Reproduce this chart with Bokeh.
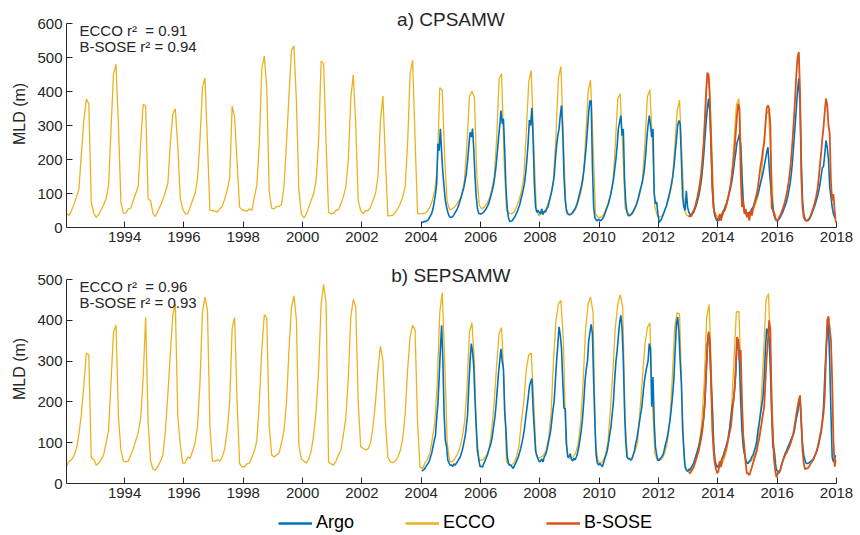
import numpy as np
from bokeh.plotting import figure
from bokeh.layouts import column
from bokeh.models import Range1d, FixedTicker, Label, Legend, LegendItem
from bokeh.embed import file_html
from bokeh.resources import INLINE

# ---------------- data (MLD in m) ----------------
ecco_start = 1992          # monthly ECCO, Jan 1992 - Dec 2015
argo_start = 2004          # semi-monthly Argo, 2004 - 2017
bsose_start = 2013         # semi-monthly B-SOSE, 2013 - 2017

year_ticks = [1994, 1996, 1998, 2000, 2002, 2004, 2006, 2008, 2010, 2012, 2014, 2016, 2018]
year_tick_labels = ["1994", "1996", "1998", "2000", "2002", "2004", "2006", "2008",
                    "2010", "2012", "2014", "2016", "2018"]

ecco_cpsamw = [
    41, 35, 50, 68, 90, 113, 216, 315, 378, 364, 75, 42,      # 1992
    30, 38, 52, 66, 85, 123, 290, 452, 480, 300, 74, 42,      # 1993
    42, 55, 57, 80, 100, 122, 250, 362, 358, 84, 79, 40,      # 1994
    32, 50, 65, 82, 105, 130, 250, 334, 349, 240, 85, 55,     # 1995
    40, 40, 60, 80, 100, 145, 260, 413, 440, 250, 51, 50,     # 1996
    48, 45, 55, 62, 85, 110, 145, 357, 324, 190, 60, 52,      # 1997
    50, 48, 55, 50, 90, 125, 250, 467, 504, 410, 105, 57,     # 1998
    55, 62, 62, 68, 123, 250, 390, 521, 534, 370, 110, 40,    # 1999
    28, 40, 60, 80, 100, 140, 260, 490, 482, 250, 45, 40,     # 2000
    42, 50, 52, 70, 90, 120, 200, 380, 450, 300, 79, 50,      # 2001
    40, 50, 50, 60, 80, 100, 150, 315, 387, 200, 34, 35,      # 2002
    35, 45, 55, 70, 90, 120, 250, 452, 492, 260, 41, 41,      # 2003
    41, 42, 48, 60, 80, 110, 180, 411, 404, 200, 75, 52,      # 2004
    55, 60, 70, 82, 100, 140, 250, 385, 401, 383, 150, 65,    # 2005
    55, 60, 70, 85, 110, 150, 260, 437, 452, 200, 50, 42,     # 2006
    40, 45, 60, 80, 105, 150, 280, 430, 462, 250, 60, 35,     # 2007
    40, 45, 55, 75, 100, 140, 270, 440, 474, 260, 60, 40,     # 2008
    38, 42, 55, 75, 100, 140, 260, 400, 434, 250, 40, 30,     # 2009
    30, 35, 50, 70, 95, 130, 240, 380, 393, 230, 55, 45,      # 2010
    35, 40, 55, 75, 100, 140, 250, 385, 405, 250, 60, 35,     # 2011
    30, 35, 50, 70, 95, 130, 230, 340, 375, 200, 50, 35,      # 2012
    35, 40, 50, 70, 95, 140, 260, 420, 440, 250, 50, 35,      # 2013
    30, 40, 55, 75, 100, 140, 250, 360, 379, 220, 50, 35,     # 2014
    30, 40, 55, 75, 100, 140, 230, 330, 345, 200, 50, 35,     # 2015
]

argo_cpsamw = [
    15, 16, 18, 17, 20, 22, 28, 35, 42, 55, 75, 98, 130, 246, 226, 290, 221, 160, 118, 79, 60, 45, 34, 30,     # 2004
    30, 32, 38, 45, 50, 58, 68, 80, 92, 105, 118, 138, 160, 197, 240, 280, 266, 291, 230, 150, 90, 55, 42, 40,  # 2005
    40, 42, 45, 50, 55, 62, 70, 82, 95, 110, 125, 150, 180, 220, 260, 300, 344, 305, 320, 230, 120, 60, 30, 18, # 2006
    18, 20, 25, 30, 38, 45, 55, 65, 80, 95, 110, 130, 160, 200, 250, 316, 300, 352, 260, 130, 60, 45, 50, 44,   # 2007
    40, 55, 38, 48, 45, 55, 60, 75, 90, 105, 125, 150, 199, 240, 270, 290, 330, 359, 280, 150, 80, 50, 40, 38,  # 2008
    38, 40, 45, 50, 55, 65, 75, 90, 105, 120, 140, 165, 200, 240, 290, 340, 373, 372, 180, 60, 30, 22, 20, 25,  # 2009
    22, 20, 25, 30, 40, 50, 60, 70, 85, 100, 120, 140, 170, 200, 240, 290, 310, 329, 270, 290, 140, 70, 45, 35, # 2010
    35, 38, 42, 48, 55, 62, 72, 85, 100, 115, 128, 145, 170, 210, 260, 300, 329, 300, 266, 290, 100, 70, 75, 40, # 2011
    15, 20, 25, 35, 45, 55, 65, 80, 95, 110, 130, 150, 180, 220, 260, 300, 315, 305, 200, 90, 60, 50, 108, 60,  # 2012
    45, 38, 35, 40, 45, 55, 65, 80, 95, 115, 140, 170, 210, 260, 310, 350, 379, 340, 240, 120, 60, 35, 25, 20,  # 2013
    20, 25, 30, 40, 48, 55, 65, 75, 90, 105, 120, 140, 165, 195, 220, 250, 260, 275, 240, 150, 70, 50, 42, 40,  # 2014
    40, 42, 48, 55, 60, 70, 80, 90, 100, 115, 130, 145, 160, 180, 200, 220, 236, 180, 133, 90, 60, 35, 25, 20,  # 2015
    20, 25, 30, 38, 45, 55, 65, 75, 90, 110, 130, 160, 200, 250, 300, 350, 404, 438, 360, 200, 80, 40, 25, 20,  # 2016
    20, 22, 28, 35, 45, 55, 65, 78, 90, 105, 125, 150, 175, 180, 215, 256, 236, 200, 120, 90, 60, 40, 30, 25,   # 2017
]

bsose_cpsamw = [
    30, 35, 32, 45, 50, 60, 75, 90, 110, 130, 160, 200, 250, 320, 400, 455, 450, 380, 250, 120, 59, 40, 30, 25,  # 2013
    22, 40, 20, 35, 45, 50, 60, 75, 90, 110, 130, 160, 190, 230, 280, 330, 364, 350, 150, 60, 80, 40, 55, 30,    # 2014
    45, 20, 50, 35, 55, 70, 85, 100, 120, 150, 180, 200, 230, 250, 300, 350, 359, 350, 300, 59, 50, 40, 30, 20,  # 2015
    20, 30, 35, 45, 55, 65, 80, 95, 115, 140, 170, 210, 260, 315, 380, 450, 500, 516, 400, 150, 60, 30, 22, 20,  # 2016
    20, 25, 30, 40, 50, 60, 75, 90, 110, 140, 180, 216, 260, 295, 340, 379, 360, 300, 276, 133, 79, 98, 50, 15,  # 2017
]

ecco_sepsamw = [
    42, 55, 58, 68, 85, 120, 170, 240, 320, 315, 62, 60,      # 1992
    45, 50, 58, 70, 100, 130, 250, 371, 388, 163, 82, 55,     # 1993
    53, 55, 70, 86, 105, 125, 160, 260, 408, 150, 55, 35,     # 1994
    33, 42, 55, 70, 130, 220, 320, 413, 440, 167, 95, 50,     # 1995
    50, 65, 62, 80, 100, 140, 250, 420, 457, 425, 140, 55,    # 1996
    55, 58, 55, 65, 85, 130, 200, 380, 407, 200, 49, 41,      # 1997
    41, 48, 50, 65, 80, 105, 200, 327, 414, 405, 140, 70,     # 1998
    65, 70, 75, 100, 130, 200, 327, 432, 460, 400, 94, 60,    # 1999
    55, 50, 60, 80, 120, 180, 280, 440, 488, 441, 53, 48,     # 2000
    45, 55, 70, 82, 120, 160, 260, 408, 451, 433, 200, 90,    # 2001
    86, 82, 85, 100, 140, 200, 280, 336, 302, 150, 65, 53,    # 2002
    51, 55, 65, 80, 110, 170, 280, 360, 388, 376, 150, 40,    # 2003
    37, 50, 60, 75, 110, 150, 250, 420, 468, 300, 100, 55,    # 2004
    53, 60, 70, 85, 110, 150, 230, 372, 394, 300, 80, 57,     # 2005
    57, 62, 70, 86, 130, 200, 290, 368, 382, 250, 53, 45,     # 2006
    45, 50, 65, 90, 150, 200, 280, 315, 320, 200, 69, 62,     # 2007
    65, 70, 80, 110, 170, 300, 400, 440, 449, 350, 100, 62,   # 2008
    62, 65, 75, 98, 150, 250, 380, 440, 457, 420, 100, 55,    # 2009
    49, 55, 70, 100, 180, 270, 380, 440, 463, 433, 150, 61,   # 2010
    61, 65, 80, 100, 180, 260, 340, 383, 394, 200, 74, 57,    # 2011
    57, 61, 75, 98, 150, 250, 380, 418, 416, 200, 49, 30,     # 2012
    30, 40, 55, 75, 100, 150, 250, 408, 439, 250, 80, 40,     # 2013
    40, 45, 60, 80, 120, 180, 300, 421, 421, 250, 80, 50,     # 2014
    50, 55, 65, 80, 120, 200, 320, 450, 466, 280, 100, 50,    # 2015
]

argo_sepsamw = [
    30, 33, 35, 40, 45, 49, 55, 65, 75, 90, 105, 118, 160, 196, 260, 330, 388, 300, 170, 106, 90, 57, 50, 45,    # 2004
    45, 42, 48, 45, 50, 55, 60, 65, 75, 85, 100, 115, 140, 170, 240, 300, 343, 323, 286, 204, 139, 86, 60, 42,   # 2005
    42, 40, 48, 55, 62, 70, 80, 90, 100, 115, 139, 160, 190, 230, 270, 300, 330, 300, 280, 176, 135, 69, 50, 45, # 2006
    45, 40, 37, 45, 50, 58, 65, 75, 86, 100, 115, 135, 160, 184, 210, 237, 249, 257, 184, 130, 80, 69, 60, 53,   # 2007
    55, 60, 53, 65, 70, 80, 95, 110, 125, 150, 180, 200, 250, 300, 340, 384, 364, 330, 250, 184, 184, 100, 65, 65, # 2008
    73, 60, 55, 62, 58, 65, 75, 90, 110, 130, 160, 200, 250, 280, 300, 350, 370, 390, 368, 250, 150, 70, 50, 45,  # 2009
    49, 45, 41, 50, 61, 70, 80, 100, 120, 139, 170, 200, 253, 298, 325, 360, 395, 412, 380, 300, 180, 100, 65, 61, # 2010
    61, 57, 60, 70, 80, 98, 110, 130, 150, 170, 188, 220, 250, 270, 286, 300, 343, 330, 188, 261, 150, 90, 70, 57, # 2011
    57, 62, 65, 70, 80, 95, 106, 120, 140, 160, 188, 220, 260, 330, 392, 408, 370, 300, 245, 131, 80, 40, 33, 30,  # 2012
    35, 33, 40, 45, 50, 60, 70, 80, 90, 105, 120, 139, 160, 200, 270, 343, 367, 330, 245, 188, 100, 57, 45, 40,    # 2013
    45, 50, 55, 62, 70, 80, 90, 100, 115, 135, 160, 190, 200, 230, 270, 343, 351, 294, 200, 130, 90, 73, 60, 50,   # 2014
    49, 55, 58, 65, 70, 80, 90, 105, 131, 150, 170, 190, 212, 260, 330, 380, 370, 357, 280, 180, 90, 82, 50, 33,   # 2015
    30, 25, 33, 45, 55, 65, 74, 80, 88, 95, 102, 110, 116, 123, 140, 160, 172, 196, 208, 150, 98, 70, 57, 49,      # 2016
    49, 50, 53, 55, 58, 62, 69, 75, 85, 95, 110, 123, 150, 188, 260, 327, 368, 392, 300, 172, 65, 53, 61, 69,      # 2017
]

bsose_sepsamw = [
    28, 25, 30, 35, 40, 50, 60, 70, 80, 95, 110, 130, 160, 200, 265, 331, 372, 351, 250, 135, 82, 50, 35, 25,    # 2013
    30, 55, 40, 60, 65, 75, 85, 95, 110, 125, 139, 170, 200, 229, 290, 359, 351, 302, 327, 200, 120, 86, 50, 25,  # 2014
    25, 20, 30, 40, 50, 60, 70, 80, 98, 110, 130, 150, 170, 188, 250, 310, 351, 400, 376, 188, 120, 57, 30, 15,   # 2015
    25, 30, 33, 45, 55, 62, 70, 75, 82, 88, 95, 105, 115, 130, 150, 170, 188, 204, 216, 150, 80, 50, 35, 37,      # 2016
    37, 40, 45, 50, 55, 60, 68, 75, 85, 100, 115, 130, 150, 172, 212, 310, 400, 410, 380, 351, 253, 106, 41, 60,  # 2017
]

titles = ["a) CPSAMW", "b) SEPSAMW"]
r2_texts = [["ECCO r\u00b2\u00a0 = 0.91", "B-SOSE r\u00b2 = 0.94"],
            ["ECCO r\u00b2\u00a0 = 0.96", "B-SOSE r\u00b2 = 0.93"]]
series_names = ["Argo", "ECCO", "B-SOSE"]

# ---------------- styling ----------------
C_ARGO = "#0072BD"
C_ECCO = "#EDB120"
C_BSOSE = "#D95319"
TXT = "#262626"
FONT = "Liberation Sans"
X0, X1 = 1992.04, 2018.0
W = 860
BL, BR = 66, 24


def times(start, n, per_year):
    return start + (np.arange(n) + 0.5) / per_year


def panel(height, bottom, top_gap, ymax, yticks, ecco, argo, bsose, title, r2):
    # frame starts at the very top; the axis is bounded to [0, ymax]
    frame_h = height - bottom
    ytop = ymax * frame_h / (frame_h - top_gap)
    p = figure(width=W, height=height, x_range=Range1d(X0, X1), y_range=Range1d(0, ytop),
               output_backend="svg", toolbar_location=None,
               min_border_left=BL, min_border_right=BR,
               min_border_top=0, min_border_bottom=bottom)
    p.outline_line_color = None
    p.grid.visible = False
    p.background_fill_color = "white"
    p.border_fill_color = "white"

    p.line(times(ecco_start, len(ecco), 12), ecco, color=C_ECCO, line_width=1.3)
    p.line(times(argo_start, len(argo), 24), argo, color=C_ARGO, line_width=1.6)
    p.line(times(bsose_start, len(bsose), 24), bsose, color=C_BSOSE, line_width=1.8)

    for ax in (p.xaxis[0], p.yaxis[0]):
        ax.axis_line_color = TXT
        ax.major_tick_line_color = TXT
        ax.minor_tick_line_color = None
        ax.major_tick_in = 6
        ax.major_tick_out = 0
        ax.major_label_text_font = FONT
        ax.major_label_text_font_size = "15px"
        ax.major_label_text_color = TXT
        ax.major_label_standoff = 4
    p.xaxis.ticker = FixedTicker(ticks=year_ticks)
    p.xaxis.major_label_overrides = {t: s for t, s in zip(year_ticks, year_tick_labels)}
    p.yaxis.ticker = FixedTicker(ticks=yticks)
    p.yaxis.bounds = (0, ymax)
    p.yaxis.axis_label = "MLD (m)"
    p.yaxis.axis_label_text_font = FONT
    p.yaxis.axis_label_text_font_size = "16px"
    p.yaxis.axis_label_text_font_style = "normal"
    p.yaxis.axis_label_text_color = TXT
    p.yaxis.axis_label_standoff = 6

    p.add_layout(Label(x=2005.0, y=ymax, y_offset=4, text=title, text_align="center",
                       text_baseline="middle", text_font=FONT, text_font_size="19px",
                       text_color=TXT))
    for i, t in enumerate(r2):
        p.add_layout(Label(x=X0, y=ymax, x_offset=13, y_offset=-7 - 16 * i, text=t,
                           text_align="left", text_baseline="middle", text_font=FONT,
                           text_font_size="15px", text_color=TXT))
    return p


pa = panel(254, 27, 23, 600, [0, 100, 200, 300, 400, 500, 600],
           ecco_cpsamw, argo_cpsamw, bsose_cpsamw, titles[0], r2_texts[0])
pb = panel(252, 23, 25, 500, [0, 100, 200, 300, 400, 500],
           ecco_sepsamw, argo_sepsamw, bsose_sepsamw, titles[1], r2_texts[1])

# legend row (its lines hold the panel-b data but lie outside this tiny frame)
leg = figure(width=W, height=28, x_range=Range1d(0, 1), y_range=Range1d(0, 1),
             output_backend="svg", toolbar_location=None,
             min_border_left=BL, min_border_right=BR, min_border_top=0, min_border_bottom=0,
             x_axis_type=None, y_axis_type=None)
leg.outline_line_color = None
leg.grid.visible = False
ra = leg.line(times(argo_start, len(argo_sepsamw), 24), argo_sepsamw, color=C_ARGO, line_width=2.6)
re = leg.line(times(ecco_start, len(ecco_sepsamw), 12), ecco_sepsamw, color=C_ECCO, line_width=2.6)
rb = leg.line(times(bsose_start, len(bsose_sepsamw), 24), bsose_sepsamw, color=C_BSOSE, line_width=2.6)
legend = Legend(items=[LegendItem(label=series_names[0], renderers=[ra]),
                       LegendItem(label=series_names[1], renderers=[re]),
                       LegendItem(label=series_names[2], renderers=[rb])],
                orientation="horizontal", location=(278 - BL, 1), padding=0, margin=0,
                spacing=51, glyph_width=34, glyph_height=20, label_standoff=4,
                label_text_font=FONT, label_text_font_size="18px", label_text_color="black",
                border_line_color=None, background_fill_alpha=0)
leg.add_layout(legend, "center")

layout = column(pa, pb, leg, spacing=0)
open("out.html", "w").write(file_html(layout, INLINE))
